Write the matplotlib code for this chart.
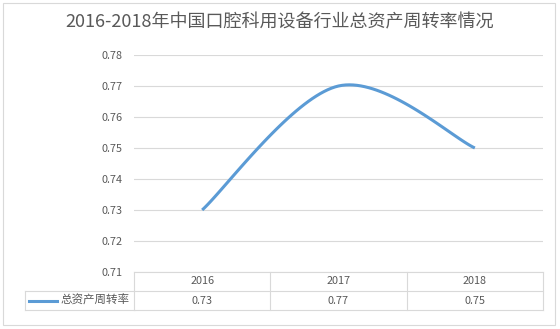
import numpy as np
import matplotlib
matplotlib.use('Agg')
import matplotlib.pyplot as plt
from matplotlib.transforms import blended_transform_factory
from matplotlib.patches import Rectangle

plt.rcParams['font.family'] = ['Noto Sans CJK SC', 'DejaVu Sans']

# data
years = ['2016', '2017', '2018']
values = [0.73, 0.77, 0.75]
series_name = '总资产周转率'
title = '2016-2018年中国口腔科用设备行业总资产周转率情况'
yticks = [0.71, 0.72, 0.73, 0.74, 0.75, 0.76, 0.77, 0.78]

W, H = 560, 329
grid_c = '#D9D9D9'
text_c = '#595959'
line_c = '#5B9BD5'


def fx(px):
    return px / W


def fy(py):
    return 1 - py / H


def smooth(xs, ys, n=40):
    # catmull-rom style smoothing like excel's smoothed line
    pts = np.column_stack([xs, ys]).astype(float)
    P = np.vstack([pts[0], pts, pts[-1]])
    out = []
    for i in range(1, len(P) - 2):
        p0, p1, p2, p3 = P[i - 1], P[i], P[i + 1], P[i + 2]
        c1 = p1 + (p2 - p0) / 6
        c2 = p2 - (p3 - p1) / 6
        t = np.linspace(0, 1, n)[:, None]
        seg = ((1 - t) ** 3) * p1 + 3 * ((1 - t) ** 2) * t * c1 + 3 * (1 - t) * t ** 2 * c2 + t ** 3 * p2
        out.append(seg if i == 1 else seg[1:])
    out = np.vstack(out)
    return out[:, 0], out[:, 1]


fig = plt.figure(figsize=(W / 100, H / 100), dpi=100)
left, right, top, bottom = 134, 543, 55, 272
ax = fig.add_axes([fx(left), fy(bottom), fx(right - left), (bottom - top) / H])

x = np.arange(len(years))
sx, sy = smooth(x, values)
ax.plot(sx, sy, color=line_c, lw=2.2, solid_capstyle='butt', zorder=3)

ax.set_xlim(-0.5, len(years) - 0.5)
ax.set_ylim(yticks[0], yticks[-1])
ax.set_yticks(yticks)
ax.set_yticklabels([f'{v:.2f}' for v in yticks])
ax.set_xticks([])
ax.tick_params(axis='y', length=0, pad=8, labelsize=7.8, labelcolor=text_c)
for s in ax.spines.values():
    s.set_visible(False)
ax.grid(axis='y', color=grid_c, lw=0.8)
ax.set_axisbelow(True)

# data table below the plot
tr = blended_transform_factory(ax.transData, fig.transFigure)
edges = np.arange(len(years) + 1) - 0.5
r0, r1, r2 = fy(272), fy(291), fy(310)
ax.plot([edges[0], edges[-1]], [r0, r0], transform=tr, color=grid_c, lw=0.8, clip_on=False)
for yy in (r1, r2):
    fig.add_artist(plt.Line2D([fx(25), fx(left)], [yy, yy], color=grid_c, lw=0.8))
    ax.plot([edges[0], edges[-1]], [yy, yy], transform=tr, color=grid_c, lw=0.8, clip_on=False)
fig.add_artist(plt.Line2D([fx(25), fx(25)], [r1, r2], color=grid_c, lw=0.8))
for e in edges:
    ax.plot([e, e], [r0, r2], transform=tr, color=grid_c, lw=0.8, clip_on=False)
for i, (yr, v) in enumerate(zip(years, values)):
    ax.text(i, (r0 + r1) / 2, yr, transform=tr, ha='center', va='center',
            fontsize=7.8, color=text_c)
    ax.text(i, (r1 + r2) / 2, f'{v:.2f}', transform=tr, ha='center', va='center',
            fontsize=7.8, color=text_c)

# legend key in table
ym = (r1 + r2) / 2
fig.add_artist(plt.Line2D([fx(29), fx(57)], [ym, ym], color=line_c, lw=2.2))
fig.text(fx(61), ym, series_name, ha='left', va='center', fontsize=8.3, color=text_c)

fig.text(0.5, fy(22), title, ha='center', va='center', fontsize=13, color=text_c)

fig.add_artist(Rectangle((fx(3), fy(325)), fx(552), (322) / H, fill=False,
                         edgecolor=grid_c, lw=0.8))

fig.savefig('out.png', dpi=100)
